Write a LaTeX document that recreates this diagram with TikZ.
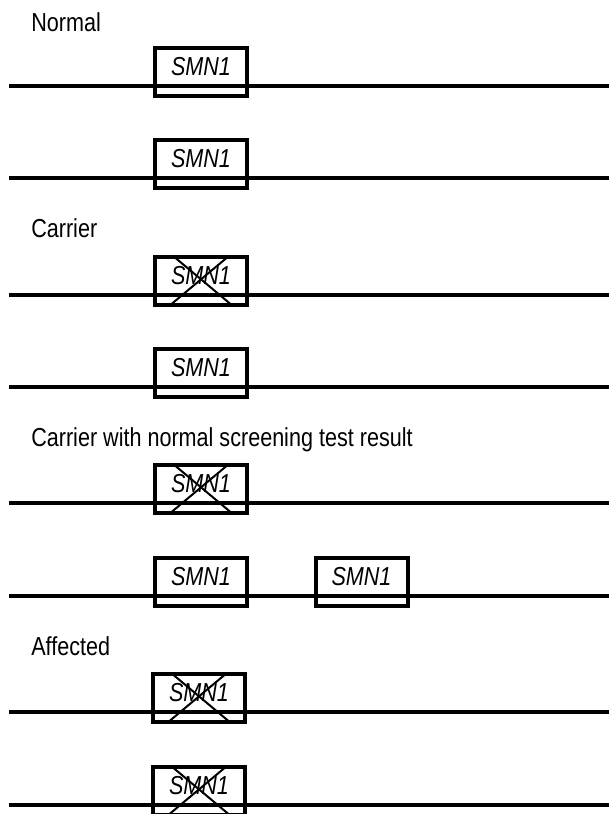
\documentclass[tikz,border=0pt]{standalone}
\usepackage{fontspec}
\setmainfont{Liberation Sans}[FakeStretch=0.83]
\usepackage{tikz}
\newcommand{\diagfont}{\fontsize{19.5}{23}\selectfont}

\begin{document}
\begin{tikzpicture}[x=0.75pt, y=-0.75pt,
		chrom/.style={line width=2.6pt},
		gene/.style={draw, line width=3pt, outer sep=0pt, minimum width=69pt, minimum height=36pt, inner sep=0pt, text depth=9pt, font=\diagfont\itshape},
		deleted/.style={line width=1.5pt},
		status/.style={anchor=base west, inner sep=0pt, font=\diagfont}]
		\useasboundingbox (0,0) rectangle (609,814);
		% normal
		\node[status] (normal) at (31,31) {Normal};
		\coordinate (a1l) at (9,86); \coordinate (a1r) at (609,86);
		\node[gene] (a1) at (201,72) {SMN1};
		\draw[chrom] (a1l) -- (a1r);
		\coordinate (a2l) at (9,178); \coordinate (a2r) at (609,178);
		\node[gene] (a2) at (201,164) {SMN1};
		\draw[chrom] (a2l) -- (a2r);
		% carrier
		\node[status] (carrier) at (31,237) {Carrier};
		\coordinate (b1l) at (9,295); \coordinate (b1r) at (609,295);
		\node[gene] (b1) at (201,281) {SMN1};
		\draw[chrom] (b1l) -- (b1r);
		\draw[deleted] ([xshift=-20pt]b1.north) -- ([xshift=23pt]b1.south);
		\draw[deleted] ([xshift=20pt]b1.north) -- ([xshift=-23pt]b1.south);
		\coordinate (b2l) at (9,387); \coordinate (b2r) at (609,387);
		\node[gene] (b2) at (201,373) {SMN1};
		\draw[chrom] (b2l) -- (b2r);
		% carrier, two copies on one chromosome
		\node[status] (silent) at (31,446) {Carrier with normal screening test result};
		\coordinate (c1l) at (9,503); \coordinate (c1r) at (609,503);
		\node[gene] (c1) at (201,489) {SMN1};
		\draw[chrom] (c1l) -- (c1r);
		\draw[deleted] ([xshift=-20pt]c1.north) -- ([xshift=23pt]c1.south);
		\draw[deleted] ([xshift=20pt]c1.north) -- ([xshift=-23pt]c1.south);
		\coordinate (c2l) at (9,596); \coordinate (c2r) at (609,596);
		\node[gene] (c2) at (201,582) {SMN1};
		\node[gene] (c3) at (361.5,582) {SMN1};
		\draw[chrom] (c2l) -- (c2r);
		% affected
		\node[status] (affected) at (31,655) {Affected};
		\coordinate (d1l) at (9,712); \coordinate (d1r) at (609,712);
		\node[gene] (d1) at (199,698) {SMN1};
		\draw[chrom] (d1l) -- (d1r);
		\draw[deleted] ([xshift=-20pt]d1.north) -- ([xshift=23pt]d1.south);
		\draw[deleted] ([xshift=20pt]d1.north) -- ([xshift=-23pt]d1.south);
		\coordinate (d2l) at (9,805); \coordinate (d2r) at (609,805);
		\node[gene] (d2) at (199,791) {SMN1};
		\draw[chrom] (d2l) -- (d2r);
		\draw[deleted] ([xshift=-20pt]d2.north) -- ([xshift=23pt]d2.south);
		\draw[deleted] ([xshift=20pt]d2.north) -- ([xshift=-23pt]d2.south);
	\end{tikzpicture}
\end{document}
